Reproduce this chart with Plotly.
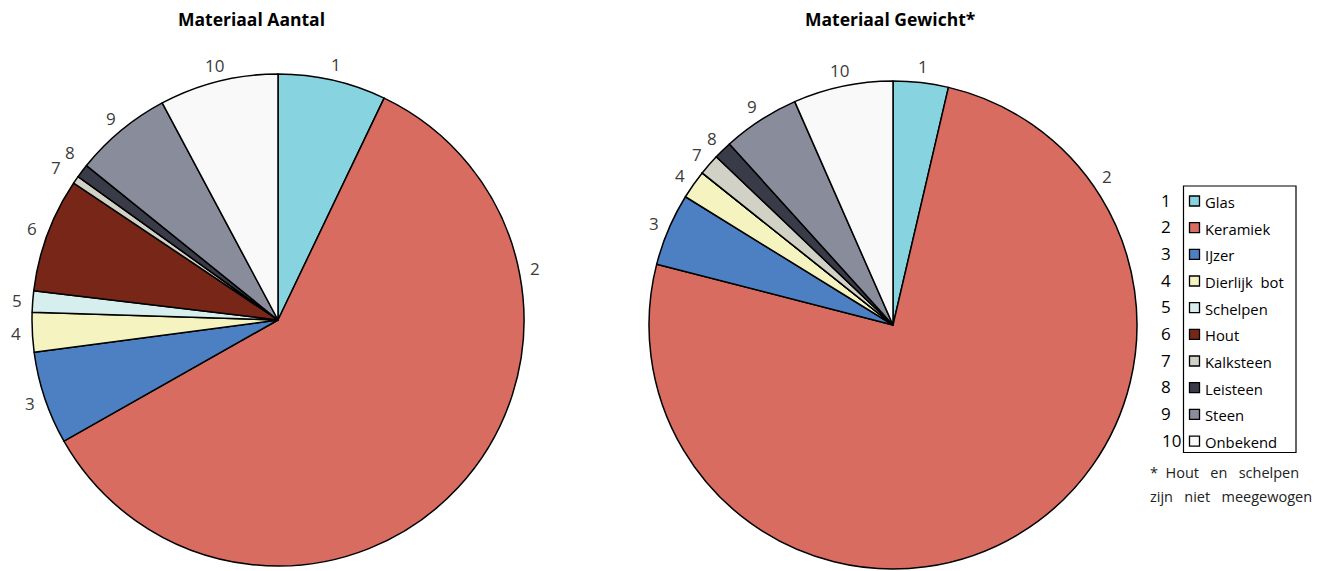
import math
import plotly.graph_objects as go

W, H = 1330, 571
OFF = 8  # page body margin offset in the browser

materials = ["Glas", "Keramiek", "IJzer", "Dierlijk bot", "Schelpen", "Hout",
             "Kalksteen", "Leisteen", "Steen", "Onbekend"]
numbers = ["1", "2", "3", "4", "5", "6", "7", "8", "9", "10"]
colors = ["#87D3E0", "#D96C61", "#4C80C2", "#F5F3C0", "#D6EFEE", "#772617",
          "#D1D1C5", "#3A3B48", "#898C9B", "#F9F9F9"]

# percentages
aantal = [7.1, 59.7, 6.1, 2.6, 1.4, 7.5, 0.5, 0.9, 6.4, 7.8]
gewicht = [3.65, 75.4, 4.8, 1.9, 0.0, 0.0, 1.4, 1.2, 5.1, 6.6]

titles = ["Materiaal Aantal", "Materiaal Gewicht*"]
footnote = ["*&nbsp; Hout&nbsp;&nbsp; en&nbsp;&nbsp; schelpen", "zijn&nbsp;&nbsp; niet&nbsp;&nbsp; meegewogen"]

FONT = "Open Sans"
LABEL_COLOR = "#3b3b3b"


def px(x):
    return (x - OFF) / W


def py(y):
    return 1 - (y - OFF) / H


def pie_domain(cx, cy, r):
    return dict(x=[px(cx - r), px(cx + r)], y=[max(0, py(cy + r)), min(1, py(cy - r))])


# label nudges (angle shift in degrees, extra distance in px) to keep small-slice labels apart
pies = [
    dict(values=aantal, cx=278, cy=320, r=246, big_angle=78.7,
         nudge={6: (-0.3, 7), 7: (1.6, 5)}),
    dict(values=gewicht, cx=893, cy=325, r=244, big_angle=55.3, nudge={}),
]

fig = go.Figure()
annotations = []

for p in pies:
    vals = p["values"]
    fig.add_trace(go.Pie(
        labels=materials, values=vals, textinfo="none",
        sort=False, direction="clockwise", rotation=0,
        marker=dict(colors=colors, line=dict(color="black", width=1.5)),
        domain=pie_domain(p["cx"], p["cy"], p["r"]),
        showlegend=False, hoverinfo="label+percent",
    ))
    total = sum(vals)
    cum = 0.0
    for i, v in enumerate(vals):
        if v <= 0:
            continue
        mid = (cum + v / 2) / total * 360
        cum += v
        if i == 1:
            mid = p["big_angle"]  # label of the big slice sits apart, as in the source
        da, dd = p["nudge"].get(i, (0, 0))
        a = math.radians(mid + da)
        d = p["r"] + 16 + dd
        x = p["cx"] + d * math.sin(a)
        y = p["cy"] - d * math.cos(a)
        annotations.append(dict(text=numbers[i], x=px(x), y=py(y), xref="paper", yref="paper",
                                showarrow=False, xanchor="center", yanchor="middle",
                                font=dict(family=FONT, size=17, color=LABEL_COLOR)))

annotations += [
    dict(text=f"<b>{titles[0]}</b>", x=px(251), y=py(19), xref="paper", yref="paper",
         showarrow=False, font=dict(family=FONT, size=17.5, color="black"),
         xanchor="center", yanchor="middle"),
    dict(text=f"<b>{titles[1]}</b>", x=px(890), y=py(19), xref="paper", yref="paper",
         showarrow=False, font=dict(family=FONT, size=17.5, color="black"),
         xanchor="center", yanchor="middle"),
]
shapes = [dict(type="rect", xref="paper", yref="paper",
               x0=px(1183.5), x1=px(1296), y0=py(186), y1=py(452.5),
               line=dict(color="black", width=1.2), fillcolor="white", layer="above")]

step = 26.67
for i, (name, num, col) in enumerate(zip(materials, numbers, colors)):
    yc = 201 + i * step
    shapes.append(dict(type="rect", xref="paper", yref="paper",
                       x0=px(1189.5), x1=px(1199.5), y0=py(yc + 5), y1=py(yc - 5),
                       fillcolor=col, line=dict(color="black", width=1.3), layer="above"))
    annotations.append(dict(text=name.replace(" ", "&nbsp; "), x=px(1203), y=py(yc + 1),
                            xref="paper", yref="paper",
                            showarrow=False, xanchor="left", yanchor="middle",
                            font=dict(family=FONT, size=14.8, color="black")))
    annotations.append(dict(text=num, x=px(1183 if len(num) > 1 else 1159), y=py(yc - 1),
                            xref="paper", yref="paper", showarrow=False,
                            xanchor="right" if len(num) > 1 else "left", yanchor="middle",
                            font=dict(family=FONT, size=17, color="black")))

for j, line in enumerate(footnote):
    annotations.append(dict(text=line, x=px(1148), y=py(472 + j * 24), xref="paper", yref="paper",
                            showarrow=False, xanchor="left", yanchor="middle",
                            font=dict(family=FONT, size=14.5, color="#222222")))

fig.update_layout(
    width=W, height=H,
    margin=dict(l=0, r=0, t=0, b=0),
    paper_bgcolor="white", plot_bgcolor="white",
    annotations=annotations, shapes=shapes,
    font=dict(family=FONT),
)

fig.write_html("out.html")
